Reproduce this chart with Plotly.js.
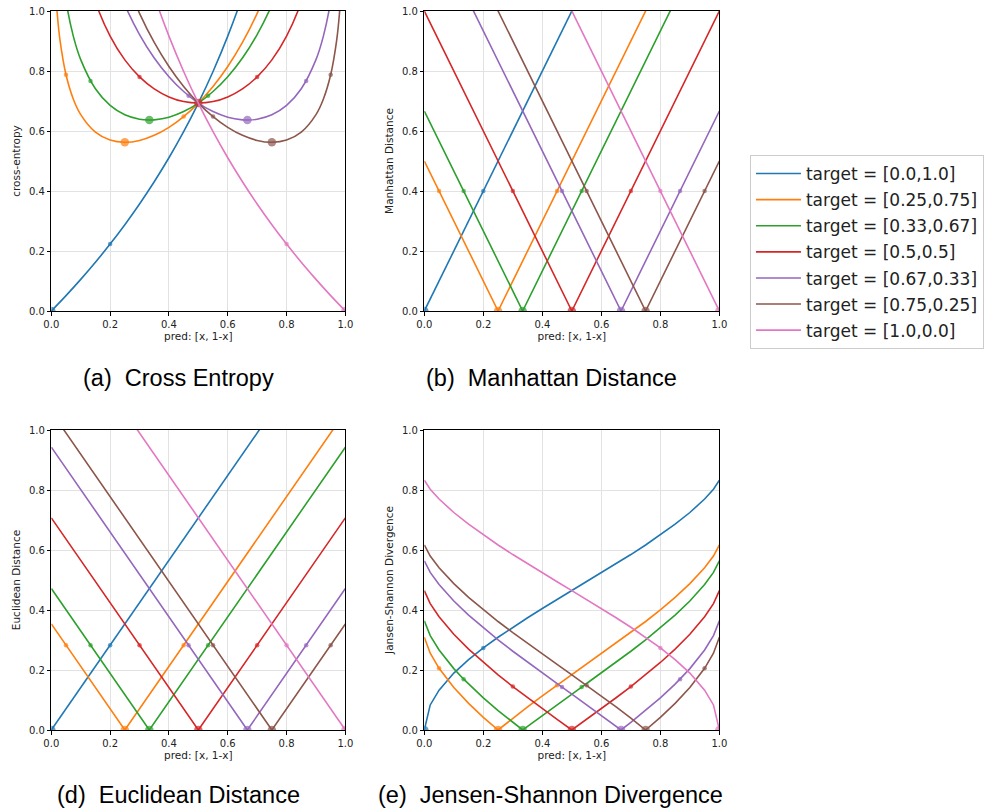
<!DOCTYPE html>
<html>
<head>
<meta charset="utf-8">
<script src="https://cdn.plot.ly/plotly-3.0.1.min.js"></script>
<style>html,body{margin:0;padding:0;background:#fff;}</style>
</head>
<body>
<div id="chart" style="width:984px;height:809px;"></div>
<script>
// ---------- data ----------
const seriesNames = ['target = [0.0,1.0]', 'target = [0.25,0.75]', 'target = [0.33,0.67]', 'target = [0.5,0.5]', 'target = [0.67,0.33]', 'target = [0.75,0.25]', 'target = [1.0,0.0]'];
const targets = [0, 0.25, 0.3333, 0.5, 0.6667, 0.75, 1];
const colors = ['#1f77b4', '#ff7f0e', '#2ca02c', '#d62728', '#9467bd', '#8c564b', '#e377c2'];

// highlighted points (target-0.2, target, target+0.2)
const markX = [[0, 0.2], [0.05, 0.25, 0.45], [0.1333, 0.3333, 0.5333], [0.3, 0.5, 0.7], [0.4667, 0.6667, 0.8667], [0.55, 0.75, 0.95], [0.8, 1]];

// (a) cross entropy
const ceX = [
  [0, 0.05, 0.1, 0.15, 0.2, 0.25, 0.3, 0.35, 0.4, 0.45, 0.5, 0.55, 0.6, 0.65, 0.7],
  [0.01, 0.02, 0.03, 0.05, 0.075, 0.1, 0.15, 0.2, 0.25, 0.3, 0.35, 0.4, 0.45, 0.5, 0.55, 0.6, 0.65, 0.7, 0.75],
  [0.02, 0.03, 0.05, 0.075, 0.1, 0.15, 0.2, 0.25, 0.3, 0.3333, 0.35, 0.4, 0.45, 0.5, 0.55, 0.6, 0.65, 0.7, 0.75, 0.8],
  [0.1, 0.15, 0.2, 0.25, 0.3, 0.35, 0.4, 0.45, 0.5, 0.55, 0.6, 0.65, 0.7, 0.75, 0.8, 0.85, 0.9],
  [0.2, 0.25, 0.3, 0.35, 0.4, 0.45, 0.5, 0.55, 0.6, 0.65, 0.6667, 0.7, 0.75, 0.8, 0.85, 0.9, 0.925, 0.95, 0.97, 0.98],
  [0.25, 0.3, 0.35, 0.4, 0.45, 0.5, 0.55, 0.6, 0.65, 0.7, 0.75, 0.8, 0.85, 0.9, 0.925, 0.95, 0.97, 0.98, 0.99],
  [0.3, 0.35, 0.4, 0.45, 0.5, 0.55, 0.6, 0.65, 0.7, 0.75, 0.8, 0.85, 0.9, 0.95, 1]
];
const ceY = [
  [0, 0.0513, 0.1054, 0.1625, 0.2231, 0.2877, 0.3567, 0.4308, 0.5108, 0.5978, 0.6931, 0.7985, 0.9163, 1.0498, 1.2040],
  [1.1588, 0.9932, 0.8995, 0.7874, 0.7060, 0.6547, 0.5962, 0.5697, 0.5623, 0.5685, 0.5855, 0.6122, 0.6480, 0.6931, 0.7483, 0.8149, 0.8951, 0.9922, 1.1116],
  [1.3175, 1.1892, 1.0328, 0.9154, 0.8378, 0.7407, 0.6852, 0.6539, 0.6391, 0.6365, 0.6371, 0.6460, 0.6647, 0.6931, 0.7316, 0.7811, 0.8435, 0.9215, 1.0201, 1.1473],
  [1.2040, 1.0298, 0.9163, 0.8370, 0.7803, 0.7403, 0.7136, 0.6981, 0.6931, 0.6981, 0.7136, 0.7403, 0.7803, 0.8370, 0.9163, 1.0298, 1.2040],
  [1.1473, 1.0201, 0.9215, 0.8435, 0.7811, 0.7316, 0.6931, 0.6647, 0.6460, 0.6371, 0.6365, 0.6391, 0.6539, 0.6852, 0.7407, 0.8378, 0.9154, 1.0328, 1.1892, 1.3175],
  [1.1116, 0.9922, 0.8951, 0.8149, 0.7483, 0.6931, 0.6480, 0.6122, 0.5855, 0.5685, 0.5623, 0.5697, 0.5962, 0.6547, 0.7060, 0.7874, 0.8995, 0.9932, 1.1588],
  [1.2040, 1.0498, 0.9163, 0.7985, 0.6931, 0.5978, 0.5108, 0.4308, 0.3567, 0.2877, 0.2231, 0.1625, 0.1054, 0.0513, 0]
];
const ceMarkY = [[0, 0.2231], [0.7874, 0.5623, 0.6480], [0.7670, 0.6365, 0.7176], [0.7803, 0.6931, 0.7803], [0.7176, 0.6365, 0.7670], [0.6480, 0.5623, 0.7874], [0.2231, 0]];

// (b) Manhattan distance
const manX = [[0, 1], [0, 0.25, 1], [0, 0.3333, 1], [0, 0.5, 1], [0, 0.6667, 1], [0, 0.75, 1], [0, 1]];
const manY = [[0, 2], [0.5, 0, 1.5], [0.6667, 0, 1.3333], [1, 0, 1], [1.3333, 0, 0.6667], [1.5, 0, 0.5], [2, 0]];
const manMarkY = [[0, 0.4], [0.4, 0, 0.4], [0.4, 0, 0.4], [0.4, 0, 0.4], [0.4, 0, 0.4], [0.4, 0, 0.4], [0.4, 0]];

// (d) Euclidean distance
const eucX = [[0, 1], [0, 0.25, 1], [0, 0.3333, 1], [0, 0.5, 1], [0, 0.6667, 1], [0, 0.75, 1], [0, 1]];
const eucY = [[0, 1.4142], [0.3536, 0, 1.0607], [0.4714, 0, 0.9428], [0.7071, 0, 0.7071], [0.9428, 0, 0.4714], [1.0607, 0, 0.3536], [1.4142, 0]];
const eucMarkY = [[0, 0.2828], [0.2828, 0, 0.2828], [0.2828, 0, 0.2828], [0.2828, 0, 0.2828], [0.2828, 0, 0.2828], [0.2828, 0, 0.2828], [0.2828, 0]];

// (e) Jensen-Shannon
const jsGrid = [0, 0.02, 0.05, 0.1, 0.15, 0.2, 0.25, 0.3, 0.35, 0.4, 0.45, 0.5, 0.55, 0.6, 0.65, 0.7, 0.75, 0.8, 0.85, 0.9, 0.95, 0.98, 1];
const jsGreenX = [0, 0.02, 0.05, 0.1, 0.1333, 0.15, 0.2, 0.25, 0.3, 0.3333, 0.35, 0.4, 0.45, 0.5, 0.5333, 0.55, 0.6, 0.65, 0.7, 0.75, 0.8, 0.85, 0.9, 0.95, 0.98, 1];
const jsPurpleX = [0, 0.02, 0.05, 0.1, 0.15, 0.2, 0.25, 0.3, 0.35, 0.4, 0.45, 0.4667, 0.5, 0.55, 0.6, 0.65, 0.6667, 0.7, 0.75, 0.8, 0.85, 0.8667, 0.9, 0.95, 0.98, 1];
const jsX = [jsGrid, jsGrid, jsGreenX, jsGrid, jsPurpleX, jsGrid, jsGrid];
const jsY = [
  [0, 0.08356, 0.13285, 0.18967, 0.23458, 0.27365, 0.30920, 0.34246, 0.37417, 0.40484, 0.43485, 0.46450, 0.49406, 0.52379, 0.55395, 0.58482, 0.61676, 0.65024, 0.68593, 0.72498, 0.76983, 0.80245, 0.83255],
  [0.30920, 0.25611, 0.20563, 0.14148, 0.08876, 0.04236, 0, 0.03961, 0.07728, 0.11361, 0.14903, 0.18391, 0.21857, 0.25334, 0.28853, 0.32449, 0.36168, 0.40066, 0.44229, 0.48800, 0.54091, 0.57989, 0.61676],
  [0.36374, 0.31468, 0.26668, 0.20459, 0.16935, 0.15291, 0.10704, 0.06490, 0.02536, 0, 0.01241, 0.04893, 0.08463, 0.11985, 0.14323, 0.15492, 0.19015, 0.22589, 0.26249, 0.30041, 0.34026, 0.38293, 0.42997, 0.48471, 0.52530, 0.56414],
  [0.46450, 0.42126, 0.37728, 0.31898, 0.26954, 0.22510, 0.18391, 0.14493, 0.10750, 0.07113, 0.03538, 0, 0.03538, 0.07113, 0.10750, 0.14493, 0.18391, 0.22510, 0.26954, 0.31898, 0.37728, 0.42126, 0.46450],
  [0.56414, 0.52530, 0.48471, 0.42997, 0.38293, 0.34026, 0.30041, 0.26249, 0.22589, 0.19015, 0.15492, 0.14323, 0.11985, 0.08463, 0.04893, 0.01241, 0, 0.02536, 0.06490, 0.10704, 0.15291, 0.16935, 0.20459, 0.26668, 0.31468, 0.36374],
  [0.61676, 0.57989, 0.54091, 0.48800, 0.44229, 0.40066, 0.36168, 0.32449, 0.28853, 0.25334, 0.21857, 0.18391, 0.14903, 0.11361, 0.07728, 0.03961, 0, 0.04236, 0.08876, 0.14148, 0.20563, 0.25611, 0.30920],
  [0.83255, 0.80245, 0.76983, 0.72498, 0.68593, 0.65024, 0.61676, 0.58482, 0.55395, 0.52379, 0.49406, 0.46450, 0.43485, 0.40484, 0.37417, 0.34246, 0.30920, 0.27365, 0.23458, 0.18967, 0.13285, 0.08356, 0]
];
const jsMarkY = [[0, 0.27365], [0.20563, 0, 0.14903], [0.16935, 0, 0.14323], [0.14493, 0, 0.14493], [0.14323, 0, 0.16935], [0.14903, 0, 0.20563], [0.27365, 0]];

const yTitles = ['cross-entropy', 'Manhattan Distance', 'Euclidean Distance', 'Jansen-Shannon Divergence'];
const captions = ['(a)\u00a0 Cross Entropy', '(b)\u00a0 Manhattan Distance', '(d)\u00a0 Euclidean Distance', '(e)\u00a0 Jensen-Shannon Divergence'];

// ---------- build ----------
const panels = [
  {xs: ceX, ys: ceY, my: ceMarkY, shape: 'spline', xa: 'x', ya: 'y'},
  {xs: manX, ys: manY, my: manMarkY, shape: 'linear', xa: 'x2', ya: 'y2'},
  {xs: eucX, ys: eucY, my: eucMarkY, shape: 'linear', xa: 'x3', ya: 'y3'},
  {xs: jsX, ys: jsY, my: jsMarkY, shape: 'linear', xa: 'x4', ya: 'y4'}
];

const traces = [];
panels.forEach((p, pi) => {
  for (let i = 0; i < seriesNames.length; i++) {
    traces.push({
      type: 'scatter', mode: 'lines', x: p.xs[i], y: p.ys[i],
      xaxis: p.xa, yaxis: p.ya, name: seriesNames[i],
      legendgroup: 'g' + i, showlegend: pi === 0,
      line: {color: colors[i], width: 1.6, shape: p.shape, smoothing: 1},
      hoverinfo: 'skip'
    });
    traces.push({
      type: 'scatter', mode: 'markers', x: markX[i], y: p.my[i],
      xaxis: p.xa, yaxis: p.ya, name: seriesNames[i],
      legendgroup: 'g' + i, showlegend: false,
      marker: {color: colors[i], size: markX[i].map(v => Math.abs(v - targets[i]) < 1e-3 ? 8.5 : 4.5), line: {width: 0}},
      hoverinfo: 'skip'
    });
  }
});

const W = 984, H = 809;
const colX = [[52, 350], [430, 729]];
const rowY = [[11, 311], [430, 730]];
function xd(c) { return [colX[c][0] / W, colX[c][1] / W]; }
function yd(r) { return [1 - rowY[r][1] / H, 1 - rowY[r][0] / H]; }

const tickFont = {family: 'DejaVu Sans, sans-serif', size: 10, color: '#222'};
const titleFont = {family: 'DejaVu Sans, sans-serif', size: 10.5, color: '#222'};
function axis(extra) {
  return Object.assign({
    range: [0, 1], tick0: 0, dtick: 0.2, tickformat: '.1f',
    showgrid: true, gridcolor: '#e2e2e2', gridwidth: 1, zeroline: false,
    showline: true, linecolor: '#000', linewidth: 1, mirror: true,
    ticks: 'outside', ticklen: 3.5, tickwidth: 1, tickcolor: '#000',
    tickfont: tickFont, fixedrange: true
  }, extra);
}
function xAx(c, anchor) {
  return axis({domain: xd(c), anchor: anchor, title: {text: 'pred: [x, 1-x]', font: titleFont, standoff: 4}});
}
function yAx(r, anchor, t) {
  return axis({domain: yd(r), anchor: anchor, title: {text: t, font: titleFont, standoff: 6}});
}

const capPos = [[180.5, 378], [559, 378], [180.5, 795], [557.5, 795]];
const annotations = captions.map((t, k) => ({
  text: t, xref: 'paper', yref: 'paper', x: capPos[k][0] / W, y: 1 - capPos[k][1] / H,
  xanchor: 'center', yanchor: 'middle', showarrow: false,
  font: {family: 'Liberation Sans, Arial, Helvetica, sans-serif', size: 23.5, color: '#000'}
}));

const layout = {
  width: W, height: H, margin: {l: 0, r: 0, t: 0, b: 0},
  paper_bgcolor: '#fff', plot_bgcolor: '#fff',
  font: {family: 'DejaVu Sans, sans-serif', size: 10, color: '#222'},
  showlegend: true,
  legend: {
    x: 760 / W, y: 1 - 155 / H, xanchor: 'left', yanchor: 'top',
    font: {family: 'DejaVu Sans, sans-serif', size: 17, color: '#222'},
    bgcolor: '#fff', bordercolor: '#cccccc', borderwidth: 1,
    traceorder: 'grouped', tracegroupgap: 1, itemwidth: 45
  },
  xaxis: xAx(0, 'y'), yaxis: yAx(0, 'x', yTitles[0]),
  xaxis2: xAx(1, 'y2'), yaxis2: yAx(0, 'x2', yTitles[1]),
  xaxis3: xAx(0, 'y3'), yaxis3: yAx(1, 'x3', yTitles[2]),
  xaxis4: xAx(1, 'y4'), yaxis4: yAx(1, 'x4', yTitles[3]),
  annotations: annotations
};

Plotly.newPlot('chart', traces, layout, {displayModeBar: false, staticPlot: true});
</script>
</body>
</html>
